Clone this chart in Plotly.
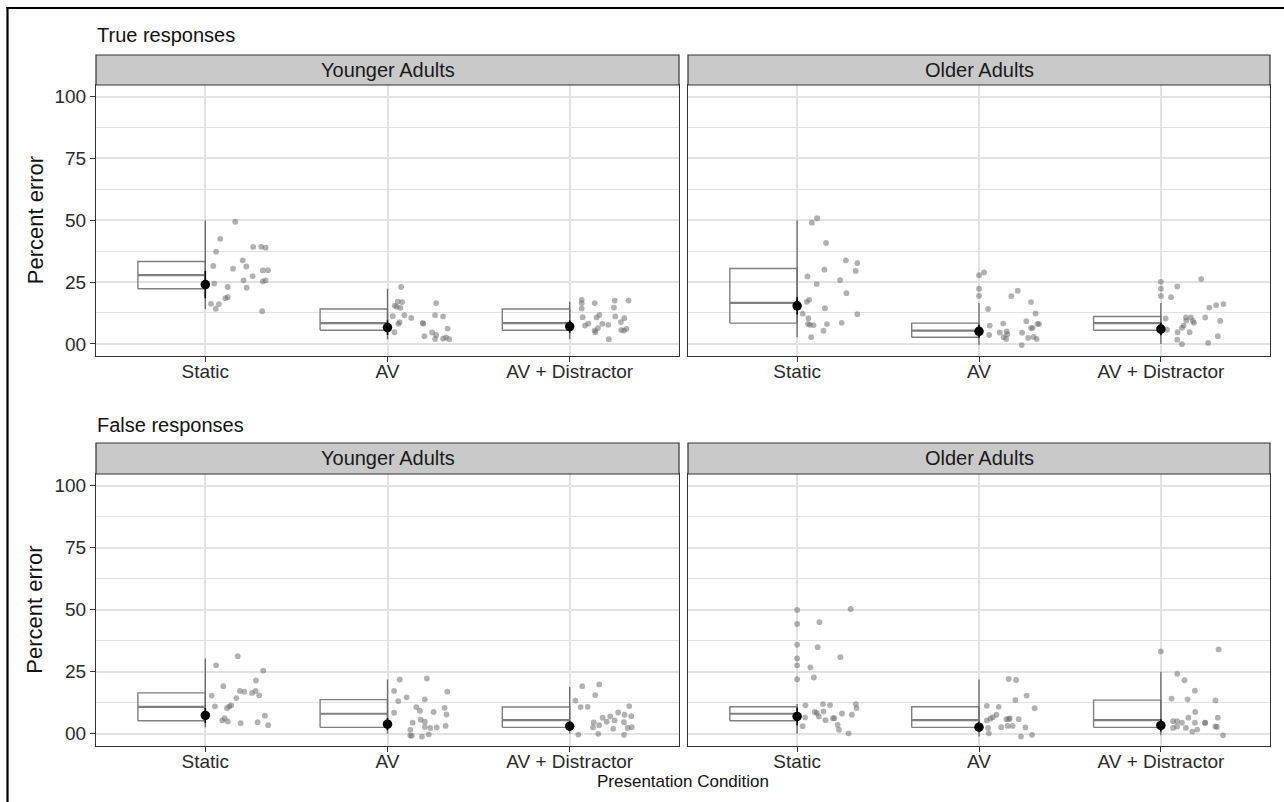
import plotly.graph_objects as go

W, H = 1284, 802

conditions = ["Static", "AV", "AV + Distractor"]
age_groups = ["Younger Adults", "Older Adults"]
response_types = ["True responses", "False responses"]
y_ticks = [0, 25, 50, 75, 100]
y_ticktext = ["00", "25", "50", "75", "100"]

# ---- box summaries (percent error), one entry per condition ----
true_young_q1 = [22.3, 5.5, 5.5]
true_young_median = [27.8, 8.4, 8.4]
true_young_q3 = [33.3, 14.1, 14.1]
true_young_lower = [14.1, 1.9, 1.9]
true_young_upper = [50.0, 22.3, 17.0]
true_young_mean = [24.0, 6.6, 7.0]
true_young_ci = [5.5, 3.0, 2.5]

true_older_q1 = [8.4, 2.7, 5.5]
true_older_median = [16.6, 5.4, 8.4]
true_older_q3 = [30.5, 8.4, 11.1]
true_older_lower = [2.7, -0.5, 0.0]
true_older_upper = [50.0, 16.5, 16.5]
true_older_mean = [15.4, 5.1, 6.0]
true_older_ci = [3.5, 2.5, 2.5]

false_young_q1 = [5.3, 2.6, 2.6]
false_young_median = [10.9, 8.1, 5.5]
false_young_q3 = [16.5, 13.8, 10.8]
false_young_lower = [2.7, 0.0, 0.0]
false_young_upper = [30.4, 21.9, 18.9]
false_young_mean = [7.4, 3.9, 3.1]
false_young_ci = [3.0, 2.5, 2.0]

false_older_q1 = [5.3, 2.6, 2.6]
false_older_median = [8.1, 5.5, 5.5]
false_older_q3 = [10.9, 10.9, 13.6]
false_older_lower = [0.0, -1.1, -0.6]
false_older_upper = [12.0, 21.9, 25.0]
false_older_mean = [7.0, 2.7, 3.4]
false_older_ci = [3.5, 2.0, 2.5]

# ---- individual participants: percent error and horizontal jitter ----
true_young_static = [49.4, 42.5, 37.3, 39.2, 39.3, 38.9, 31.5, 33.8, 31.3, 30.4, 29.7, 29.8, 27.4,
                     25.7, 25.3, 25.7, 24.4, 23.0, 22.7, 18.5, 18.9, 16.2, 16.1, 14.2, 13.2]
true_young_static_jit = [0.164, 0.082, 0.059, 0.263, 0.307, 0.331, 0.044, 0.205, 0.225, 0.152, 0.316, 0.344, 0.260,
                         0.210, 0.316, 0.331, 0.049, 0.123, 0.227, 0.110, 0.123, 0.031, 0.075, 0.057, 0.312]
true_young_av = [23.0, 17.1, 16.9, 15.5, 15.0, 14.6, 11.2, 11.6, 8.8, 8.1, 4.7, 10.5, 8.4,
                 8.2, 16.5, 11.6, 11.1, 6.2, 4.6, 3.6, 3.1, 2.0, 2.1, 2.6, 1.9]
true_young_av_jit = [0.075, 0.057, 0.080, 0.040, 0.051, 0.071, 0.029, 0.093, 0.066, 0.060, 0.038, 0.130, 0.194,
                     0.196, 0.267, 0.261, 0.305, 0.330, 0.245, 0.267, 0.203, 0.261, 0.305, 0.321, 0.339]
true_young_avd = [17.8, 16.5, 14.3, 16.5, 17.5, 17.5, 14.7, 10.8, 10.7, 11.7, 11.1, 10.4, 8.8,
                  7.4, 8.2, 8.1, 7.7, 6.4, 5.4, 4.7, 5.6, 5.4, 6.1, 1.9]
true_young_avd_jit = [0.066, 0.066, 0.066, 0.137, 0.247, 0.323, 0.243, 0.071, 0.148, 0.163, 0.250, 0.300, 0.281,
                      0.084, 0.102, 0.179, 0.212, 0.155, 0.137, 0.141, 0.283, 0.298, 0.311, 0.215]

true_older_static = [49.0, 50.8, 40.8, 33.8, 32.7, 30.0, 29.5, 27.3, 25.8, 24.2, 20.5, 17.0, 17.8,
                     14.4, 12.0, 12.2, 10.4, 8.1, 7.7, 7.6, 8.0, 8.5, 5.3, 2.7]
true_older_static_jit = [0.081, 0.110, 0.159, 0.268, 0.331, 0.150, 0.322, 0.057, 0.236, 0.108, 0.271, 0.053, 0.066,
                         0.153, 0.331, 0.031, 0.062, 0.060, 0.070, 0.090, 0.164, 0.245, 0.145, 0.077]
true_older_av = [27.8, 28.9, 22.3, 19.4, 14.1, 7.4, 3.6, 19.3, 21.5, 16.9, 12.3, 9.2, 8.1, 8.0,
                 6.4, 6.5, 8.2, 4.6, 5.0, 3.9, 2.7, 2.0, 4.5, 2.4, 2.8, 2.0, -0.5]
true_older_av_jit = [0.0, 0.028, 0.0, 0.0, 0.050, 0.059, 0.056, 0.178, 0.213, 0.286, 0.311, 0.260, 0.322, 0.330,
                     0.286, 0.295, 0.133, 0.114, 0.152, 0.156, 0.136, 0.149, 0.237, 0.270, 0.300, 0.317, 0.235]
true_older_avd = [25.1, 22.3, 19.4, 23.2, 18.9, 26.2, 10.3, 5.7, 4.7, 6.5, 7.4, 10.7, 9.4,
                  10.7, 9.3, 8.5, 4.7, 1.7, -0.1, 14.7, 15.7, 16.1, 10.7, 9.3, 3.1, 0.4]
true_older_avd_jit = [0.0, 0.0, 0.0, 0.090, 0.056, 0.222, 0.026, 0.034, 0.092, 0.116, 0.125, 0.138, 0.140,
                      0.165, 0.176, 0.182, 0.158, 0.090, 0.116, 0.266, 0.304, 0.344, 0.244, 0.326, 0.313, 0.260]

false_young_static = [31.3, 27.6, 25.5, 21.5, 19.2, 17.3, 17.0, 16.5, 17.3, 15.5, 15.4, 14.4,
                      11.1, 10.3, 11.1, 11.5, 7.3, 5.4, 6.3, 5.0, 4.3, 4.7, 3.5]
false_young_static_jit = [0.178, 0.059, 0.318, 0.278, 0.099, 0.190, 0.214, 0.256, 0.276, 0.296, 0.035, 0.170,
                          0.053, 0.119, 0.132, 0.142, 0.327, 0.093, 0.106, 0.123, 0.194, 0.287, 0.345]
false_young_av = [21.9, 17.3, 13.2, 14.7, 8.5, 22.3, 17.0, 13.9, 10.8, 9.3, 8.8, 10.5, 7.8,
                  4.5, 5.7, 4.9, 2.8, 2.4, 2.6, 3.2, 1.6, -0.6, -0.8, -1.1, -0.2]
false_young_av_jit = [0.067, 0.036, 0.059, 0.105, 0.036, 0.216, 0.328, 0.205, 0.158, 0.178, 0.253, 0.313, 0.324,
                      0.138, 0.182, 0.205, 0.205, 0.235, 0.270, 0.319, 0.125, 0.125, 0.133, 0.189, 0.226]
false_young_avd = [19.2, 19.9, 15.6, 13.4, 10.8, 10.9, 11.2, 8.6, 7.7, 7.1, 6.5, 7.0, 5.4,
                   4.9, 4.6, 2.6, 3.5, 2.0, 4.7, 2.4, 2.7, -0.3, 0.0, -0.4]
false_young_avd_jit = [0.069, 0.162, 0.140, 0.031, 0.060, 0.099, 0.327, 0.266, 0.301, 0.338, 0.181, 0.222, 0.247,
                       0.203, 0.132, 0.128, 0.162, 0.239, 0.298, 0.318, 0.341, 0.047, 0.157, 0.298]

false_older_static = [49.9, 50.3, 44.3, 45.0, 35.9, 34.9, 30.9, 30.4, 27.6, 26.8, 22.0, 22.7, 11.5, 12.0,
                      11.6, 12.0, 10.4, 9.0, 8.8, 8.4, 8.2, 7.7, 7.0, 6.6, 6.3, 6.3, 5.5, 3.6, 3.1, 1.6, 0.2]
false_older_static_jit = [0.0, 0.294, 0.0, 0.123, 0.0, 0.113, 0.238, 0.0, 0.0, 0.073, 0.0, 0.092, 0.046, 0.142,
                          0.181, 0.323, 0.327, 0.145, 0.097, 0.108, 0.247, 0.301, 0.119, 0.044, 0.197, 0.205,
                          0.156, 0.223, 0.030, 0.230, 0.283]
false_older_av = [22.1, 21.7, 15.4, 13.6, 10.3, 11.3, 10.9, 7.7, 6.7, 6.1, 5.4, 5.9, 6.2,
                  6.0, 5.9, 3.2, 3.2, 2.7, 2.6, 2.4, 0.2, -1.1, -0.4]
false_older_av_jit = [0.163, 0.204, 0.262, 0.200, 0.306, 0.043, 0.108, 0.096, 0.076, 0.063, 0.043, 0.151, 0.169,
                      0.164, 0.218, 0.158, 0.185, 0.122, 0.255, 0.050, 0.054, 0.231, 0.292]
false_older_avd = [33.2, 34.0, 24.2, 21.6, 17.4, 14.2, 13.9, 13.5, 8.8, 6.5, 6.5, 5.1, 5.1,
                   4.5, 4.5, 4.5, 4.4, 2.4, 3.0, 2.4, 1.7, 0.9, 3.0, 2.8, -0.6]
false_older_avd_jit = [0.0, 0.317, 0.090, 0.130, 0.187, 0.059, 0.147, 0.300, 0.189, 0.151, 0.313, 0.067, 0.089,
                       0.116, 0.187, 0.242, 0.244, 0.067, 0.089, 0.138, 0.200, 0.173, 0.300, 0.308, 0.342]

# ---- panel assembly ----
panels = [
    dict(ax="", row=0, col=0,
         stats=(true_young_q1, true_young_median, true_young_q3, true_young_lower,
                true_young_upper, true_young_mean, true_young_ci),
         pts=[(true_young_static, true_young_static_jit), (true_young_av, true_young_av_jit),
              (true_young_avd, true_young_avd_jit)]),
    dict(ax="2", row=0, col=1,
         stats=(true_older_q1, true_older_median, true_older_q3, true_older_lower,
                true_older_upper, true_older_mean, true_older_ci),
         pts=[(true_older_static, true_older_static_jit), (true_older_av, true_older_av_jit),
              (true_older_avd, true_older_avd_jit)]),
    dict(ax="3", row=1, col=0,
         stats=(false_young_q1, false_young_median, false_young_q3, false_young_lower,
                false_young_upper, false_young_mean, false_young_ci),
         pts=[(false_young_static, false_young_static_jit), (false_young_av, false_young_av_jit),
              (false_young_avd, false_young_avd_jit)]),
    dict(ax="4", row=1, col=1,
         stats=(false_older_q1, false_older_median, false_older_q3, false_older_lower,
                false_older_upper, false_older_mean, false_older_ci),
         pts=[(false_older_static, false_older_static_jit), (false_older_av, false_older_av_jit),
              (false_older_avd, false_older_avd_jit)]),
]

FONT = "Liberation Sans, Arial, sans-serif"
BOX_HALF = 0.37          # half-box extends to the left of each category
BOX_COLOR = "#7f7f7f"
WHISKER_COLOR = "#6a6a6a"
DOT_COLOR = "rgba(105,105,105,0.52)"
GRID = "#e2e2e2"
FRAME = "#333333"

# pixel layout of the facet grid
col_px = [(96, 679), (688, 1270)]
row_px = [(85, 355.5), (474, 745.5)]
strip_px = [(55, 85), (443, 474)]
title_px = [35, 425]


def px_x(v):
    return v / W


def px_y(v):
    return 1 - v / H


fig = go.Figure()

for p in panels:
    xa, ya = "x" + p["ax"], "y" + p["ax"]
    q1, med, q3, lo, hi, mean, ci = p["stats"]
    for i, cond in enumerate(conditions):
        c = i + 1
        # half box outline
        fig.add_trace(go.Scatter(
            x=[c - BOX_HALF, c, c, c - BOX_HALF, c - BOX_HALF],
            y=[q1[i], q1[i], q3[i], q3[i], q1[i]],
            mode="lines", line=dict(color=BOX_COLOR, width=1.4),
            xaxis=xa, yaxis=ya, hoverinfo="skip", showlegend=False))
        # median
        fig.add_trace(go.Scatter(
            x=[c - BOX_HALF, c], y=[med[i], med[i]],
            mode="lines", line=dict(color=BOX_COLOR, width=2.2),
            xaxis=xa, yaxis=ya, hoverinfo="skip", showlegend=False))
        # whisker along the box's right edge
        fig.add_trace(go.Scatter(
            x=[c, c], y=[lo[i], hi[i]],
            mode="lines", line=dict(color=WHISKER_COLOR, width=1.3),
            xaxis=xa, yaxis=ya, hoverinfo="skip", showlegend=False))
        # jittered participants
        vals, jit = p["pts"][i]
        fig.add_trace(go.Scatter(
            x=[c + j for j in jit], y=vals,
            mode="markers", marker=dict(color=DOT_COLOR, size=5.8, line=dict(width=0)),
            xaxis=xa, yaxis=ya, showlegend=False,
            hovertemplate=cond + ": %{y:.1f}%<extra></extra>"))
    # mean with interval
    for i in range(3):
        fig.add_trace(go.Scatter(
            x=[i + 1, i + 1], y=[mean[i] - ci[i], mean[i] + ci[i]],
            mode="lines", line=dict(color="black", width=1.6),
            xaxis=xa, yaxis=ya, hoverinfo="skip", showlegend=False))
    fig.add_trace(go.Scatter(
        x=[1, 2, 3], y=mean, mode="markers",
        marker=dict(color="black", size=9.5),
        xaxis=xa, yaxis=ya, showlegend=False,
        hovertemplate="mean %{y:.1f}%<extra></extra>"))

layout = dict(
    width=W, height=H,
    margin=dict(l=0, r=0, t=0, b=0),
    paper_bgcolor="white", plot_bgcolor="white",
    font=dict(family=FONT, color="#333333", size=19),
    showlegend=False,
    shapes=[], annotations=[],
)

for p in panels:
    r, cidx = p["row"], p["col"]
    x0, x1 = col_px[cidx]
    y0, y1 = row_px[r]
    anchor_x, anchor_y = "y" + p["ax"], "x" + p["ax"]
    layout["xaxis" + p["ax"]] = dict(
        domain=[px_x(x0), px_x(x1)], anchor=anchor_x, range=[0.4, 3.6],
        tickmode="array", tickvals=[1, 2, 3], ticktext=conditions,
        ticks="outside", ticklen=5, tickwidth=1.2, tickcolor=FRAME,
        ticklabelstandoff=-6,
        tickfont=dict(size=19, color="#2a2a2a", family=FONT),
        showgrid=True, gridcolor=GRID, gridwidth=1.6, zeroline=False,
        showline=True, mirror=True, linecolor=FRAME, linewidth=1.2,
        fixedrange=True)
    layout["yaxis" + p["ax"]] = dict(
        domain=[px_y(y1), px_y(y0)], anchor=anchor_y, range=[-4.7, 104.7],
        tickmode="array", tickvals=y_ticks, ticktext=y_ticktext,
        ticks="outside" if cidx == 0 else "", ticklen=5, tickwidth=1.2, tickcolor=FRAME,
        showticklabels=(cidx == 0),
        tickfont=dict(size=19, color="#2a2a2a", family=FONT),
        showgrid=True, gridcolor=GRID, gridwidth=1.6, zeroline=False,
        minor=dict(tickvals=[12.5, 37.5, 62.5, 87.5], showgrid=True,
                   gridcolor=GRID, gridwidth=1.2, ticks=""),
        showline=True, mirror=True, linecolor=FRAME, linewidth=1.2,
        fixedrange=True)

    # facet strip
    s0, s1 = strip_px[r]
    layout["shapes"].append(dict(
        type="rect", xref="paper", yref="paper",
        x0=px_x(x0), x1=px_x(x1), y0=px_y(s1), y1=px_y(s0),
        fillcolor="#c9c9c9", line=dict(color=FRAME, width=1.2), layer="above"))
    layout["annotations"].append(dict(
        text=age_groups[cidx], xref="paper", yref="paper",
        x=px_x((x0 + x1) / 2), y=px_y((s0 + s1) / 2),
        showarrow=False, font=dict(size=20, color="#1a1a1a", family=FONT),
        xanchor="center", yanchor="middle"))

for r in range(2):
    # row title
    layout["annotations"].append(dict(
        text=response_types[r], xref="paper", yref="paper",
        x=px_x(95), y=px_y(title_px[r]), showarrow=False,
        xanchor="left", yanchor="middle",
        font=dict(size=20, color="#111111", family=FONT)))
    # y-axis title
    y0, y1 = row_px[r]
    layout["annotations"].append(dict(
        text="Percent error", xref="paper", yref="paper",
        x=px_x(35), y=px_y((y0 + y1) / 2), textangle=-90, showarrow=False,
        xanchor="center", yanchor="middle",
        font=dict(size=22, color="#111111", family=FONT)))

# shared x-axis title
layout["annotations"].append(dict(
    text="Presentation Condition", xref="paper", yref="paper",
    x=px_x(683), y=px_y(781), showarrow=False,
    xanchor="center", yanchor="middle",
    font=dict(size=17, color="#111111", family=FONT)))

# outer frame on the left and top edges
layout["shapes"].append(dict(type="line", xref="paper", yref="paper",
                             x0=px_x(7.5), x1=px_x(7.5), y0=0, y1=px_y(7),
                             line=dict(color="black", width=2.2)))
layout["shapes"].append(dict(type="line", xref="paper", yref="paper",
                             x0=px_x(6.5), x1=1, y0=px_y(8), y1=px_y(8),
                             line=dict(color="black", width=2.2)))

fig.update_layout(**layout)
fig.write_html("out.html", include_plotlyjs=True, config={"displayModeBar": False})
